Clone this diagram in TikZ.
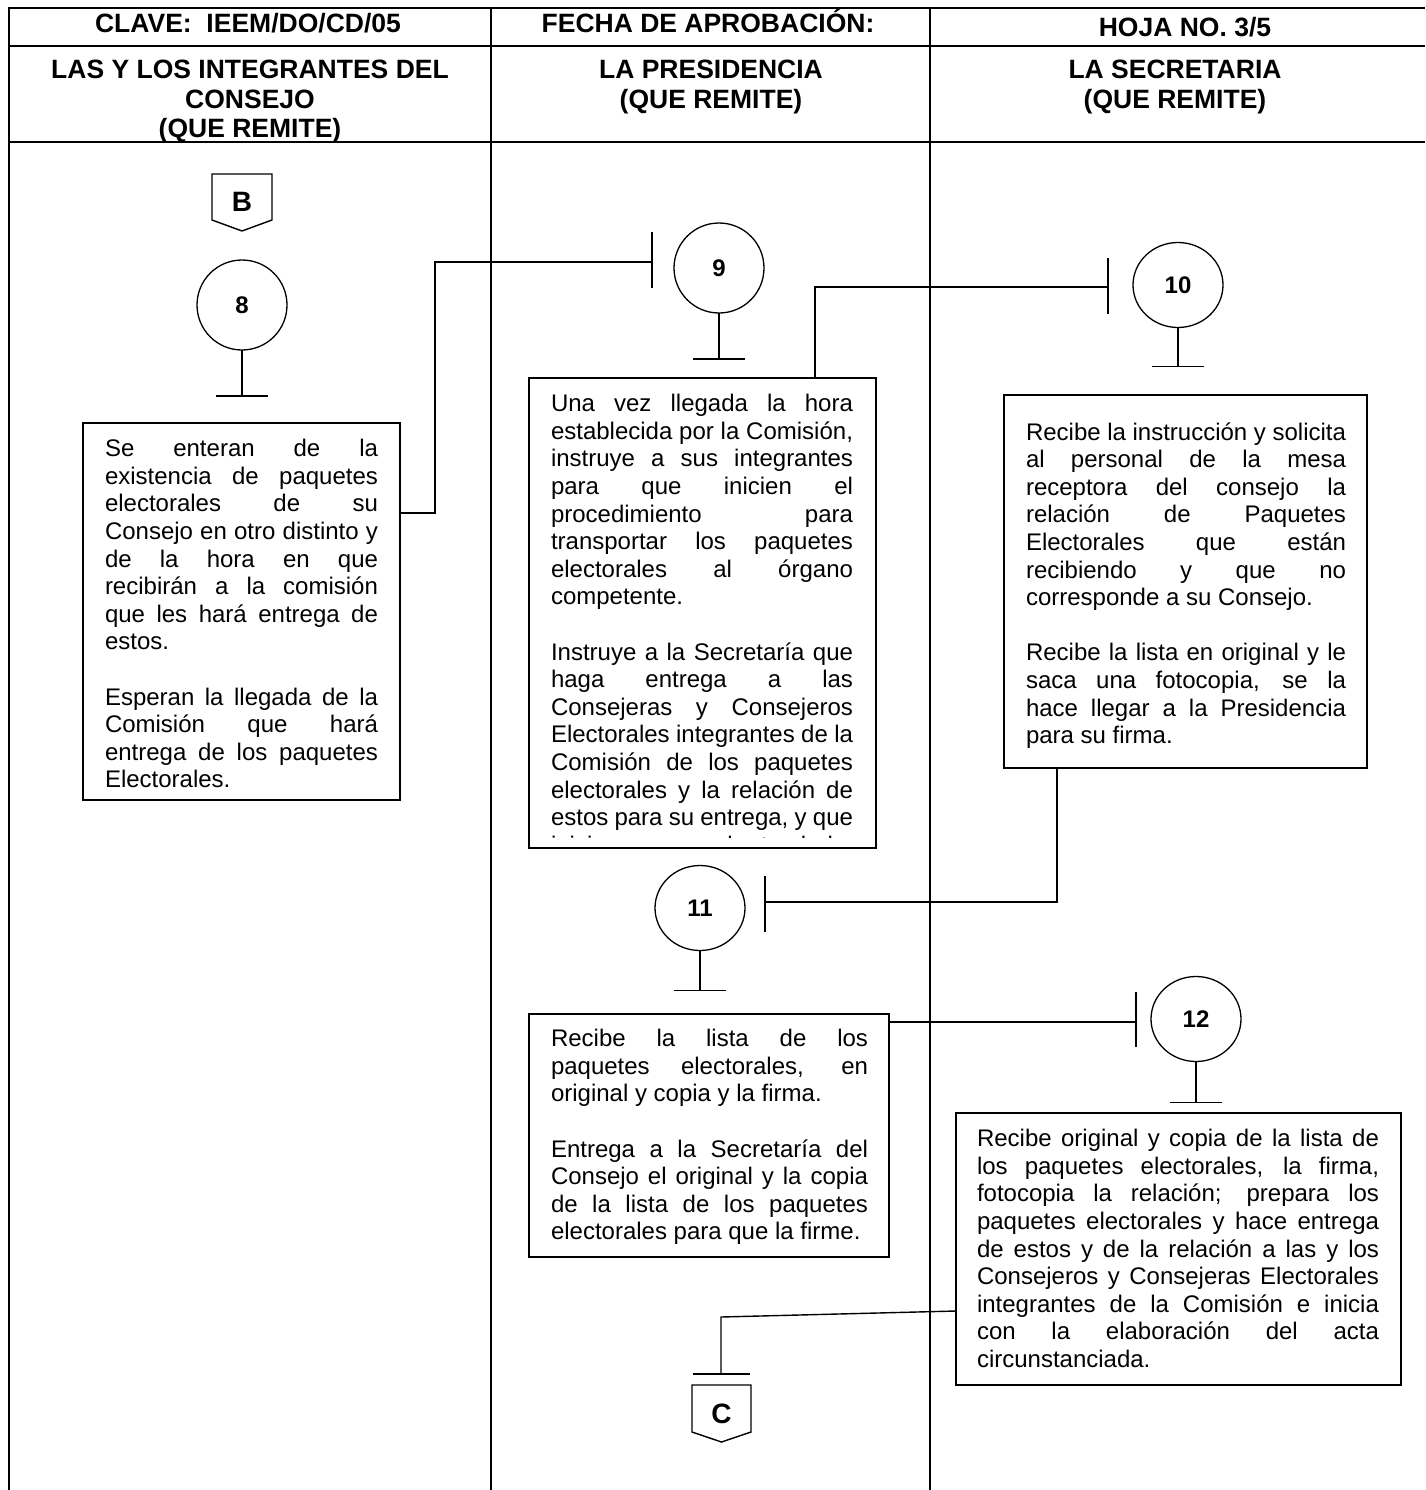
\documentclass[tikz,border=0pt]{standalone}
\usepackage{fontspec}
\setmainfont{Liberation Sans}
\usetikzlibrary{shapes.geometric}
\newcommand\jl[1]{\makebox[\linewidth][s]{\strut #1}\par}
\newcommand\lastl[1]{\strut #1\par}
\newcommand\blankl{\strut\par}
\newcommand\bodyfont{\fontsize{24}{27.6}\selectfont\lineskiplimit=-100pt\relax}
\begin{document}
\begin{tikzpicture}[x=1pt,y=-1pt,
  frame/.style={line width=2pt},
  conn/.style={line width=1.4pt},
  boxnode/.style={draw,line width=1.4pt,anchor=north west,inner sep=0pt,outer sep=0pt},
  txt/.style={anchor=north west,inner sep=0pt,outer sep=0pt},
  circnode/.style={draw,circle,line width=1.3pt,minimum size=90pt,inner sep=0pt,outer sep=0pt,font=\fontsize{24}{28}\selectfont\bfseries},
  ellnode/.style={draw,ellipse,line width=1.3pt,minimum width=90pt,minimum height=85pt,inner sep=0pt,outer sep=0pt,font=\fontsize{24}{28}\selectfont\bfseries},
  hdr/.style={anchor=base,inner sep=0pt,font=\fontsize{26.5}{30}\selectfont\bfseries},
  conlabel/.style={inner sep=0pt,font=\fontsize{28}{30}\selectfont\bfseries}]
\useasboundingbox (0,0) rectangle (1425,1490);
% frame
\draw[frame] (9,1490) -- (9,8) -- (1425,8);
\draw[frame] (9,46) -- (1425,46);
\draw[frame] (9,142) -- (1425,142);
\draw[frame] (491,8) -- (491,1490);
\draw[frame] (930,8) -- (930,1490);
% header
\node[hdr] (h1) at (248,33) {CLAVE:\ \ IEEM/DO/CD/05};
\node[hdr] (h2) at (708,33) {FECHA DE APROBACIÓN:};
\node[hdr] (h3) at (1185,37) {HOJA NO. 3/5};
\node[hdr] (h4) at (250,79) {LAS Y LOS INTEGRANTES DEL};
\node[hdr] (h5) at (250,109) {CONSEJO};
\node[hdr] (h6) at (250,138) {(QUE REMITE)};
\node[hdr] (h7) at (711,79) {LA PRESIDENCIA};
\node[hdr] (h8) at (711,109) {(QUE REMITE)};
\node[hdr] (h9) at (1175,79) {LA SECRETARIA};
\node[hdr] (h10) at (1175,109) {(QUE REMITE)};
% connector B
\draw[conn] (212,174) -- (272,174) -- (272,220) -- (242,231) -- (212,220) -- cycle;
\node[conlabel] (B) at (242,202) {B};
% circles
\node[circnode] (c8) at (242,305) {8};
\node[circnode] (c9) at (719,268) {9};
\node[ellnode] (c10) at (1178,285) {10};
\node[ellnode] (c11) at (700,908) {11};
\node[ellnode] (c12) at (1196,1019) {12};
% stems
\draw[conn] (c8.south) -- ++(0,46) coordinate (s8);
\draw[conn] ([xshift=-26pt]s8) -- ([xshift=26pt]s8);
\draw[conn] (c9.south) -- ++(0,46) coordinate (s9);
\draw[conn] ([xshift=-26pt]s9) -- ([xshift=26pt]s9);
\draw[conn] (c10.south) -- ++(0,39) coordinate (s10);
\draw[conn] ([xshift=-26pt]s10) -- ([xshift=26pt]s10);
\draw[conn] (c11.south) -- ++(0,40) coordinate (s11);
\draw[conn] ([xshift=-26pt]s11) -- ([xshift=26pt]s11);
\draw[conn] (c12.south) -- ++(0,41) coordinate (s12);
\draw[conn] ([xshift=-26pt]s12) -- ([xshift=26pt]s12);
% boxes
\node[boxnode,minimum width=317pt,minimum height=377pt] (b8) at (83,423) {};
\node[boxnode,minimum width=347pt,minimum height=470pt] (b9) at (529,378) {};
\node[boxnode,minimum width=363pt,minimum height=373pt] (b10) at (1004,395) {};
\node[boxnode,minimum width=360pt,minimum height=243pt] (b11) at (529,1014) {};
\node[boxnode,minimum width=445pt,minimum height=272pt] (b12) at (956,1113) {};
% texts
\node[txt] (t8) at (105,437.4) {\parbox{273pt}{\bodyfont
\jl{Se enteran de la}
\jl{existencia de paquetes}
\jl{electorales de su}
\jl{Consejo en otro distinto y}
\jl{de la hora en que}
\jl{recibirán a la comisión}
\jl{que les hará entrega de}
\lastl{estos.}
\blankl
\jl{Esperan la llegada de la}
\jl{Comisión que hará}
\jl{entrega de los paquetes}
\lastl{Electorales.}}};
\begin{scope}
\clip (529,378) rectangle (876,837.5);
\node[txt] (t9) at (551,392.4) {\parbox{302pt}{\bodyfont
\jl{Una vez llegada la hora}
\jl{establecida por la Comisión,}
\jl{instruye a sus integrantes}
\jl{para que inicien el}
\jl{procedimiento para}
\jl{transportar los paquetes}
\jl{electorales al órgano}
\lastl{competente.}
\blankl
\jl{Instruye a la Secretaría que}
\jl{haga entrega a las}
\jl{Consejeras y Consejeros}
\jl{Electorales integrantes de la}
\jl{Comisión de los paquetes}
\jl{electorales y la relación de}
\jl{estos para su entrega, y que}
\jl{inicien con el traslado.}}};
\end{scope}
\node[txt] (t10) at (1026,420.7) {\parbox{320pt}{\bodyfont
\jl{Recibe la instrucción y solicita}
\jl{al personal de la mesa}
\jl{receptora del consejo la}
\jl{relación de Paquetes}
\jl{Electorales que están}
\jl{recibiendo y que no}
\lastl{corresponde a su Consejo.}
\blankl
\jl{Recibe la lista en original y le}
\jl{saca una fotocopia, se la}
\jl{hace llegar a la Presidencia}
\lastl{para su firma.}}};
\node[txt] (t11) at (551,1027.4) {\parbox{317pt}{\bodyfont
\jl{Recibe la lista de los}
\jl{paquetes electorales, en}
\lastl{original y copia y la firma.}
\blankl
\jl{Entrega a la Secretaría del}
\jl{Consejo el original y la copia}
\jl{de la lista de los paquetes}
\lastl{electorales para que la firme.}}};
\node[txt] (t12) at (977,1127.4) {\parbox{402pt}{\bodyfont
\jl{Recibe original y copia de la lista de}
\jl{los paquetes electorales, la firma,}
\jl{fotocopia la relación; prepara los}
\jl{paquetes electorales y hace entrega}
\jl{de estos y de la relación a las y los}
\jl{Consejeros y Consejeras Electorales}
\jl{integrantes de la Comisión e inicia}
\jl{con la elaboración del acta}
\lastl{circunstanciada.}}};
% connector terminals
\coordinate (k9) at (652,262);
\coordinate (k10) at (1108,287);
\coordinate (k11) at (765,902);
\coordinate (k12) at (1136,1022);
\coordinate (kC) at (721,1374);
% 8 -> 9
\draw[conn] ([yshift=-90pt]b8.north east) -| (435,262) -- (k9);
\draw[conn] ([yshift=30pt]k9) -- ([yshift=-26pt]k9);
% 9 -> 10
\draw[conn] ([xshift=286pt]b9.north west) |- (k10);
\draw[conn] ([yshift=29pt]k10) -- ([yshift=-27pt]k10);
% 10 -> 11
\draw[conn] ([xshift=53pt]b10.south west) |- (k11);
\draw[conn] ([yshift=26pt]k11) -- ([yshift=-30pt]k11);
% 11 -> 12
\draw[conn] ([yshift=-8pt]b11.north east) -- (k12);
\draw[conn] ([yshift=30pt]k12) -- ([yshift=-25pt]k12);
% 12 -> C
\draw[conn] ([yshift=74pt]b12.south west) -- (721,1317) -- (kC);
\draw[conn] ([xshift=-28pt]kC) -- ([xshift=29pt]kC);
% connector C
\draw[conn] (692,1385) -- (751,1385) -- (751,1432) -- (721.5,1442) -- (692,1432) -- cycle;
\node[conlabel] (C) at (721.5,1414) {C};
\end{tikzpicture}
\end{document}
